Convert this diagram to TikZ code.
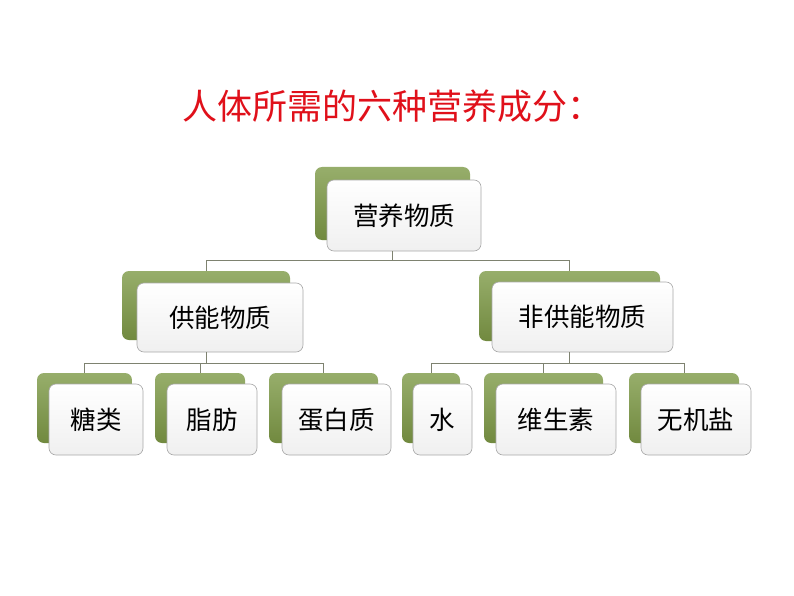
\documentclass[tikz,border=0pt]{standalone}
\usepackage{fontspec}
\setmainfont{Noto Sans CJK SC}
\definecolor{olivetop}{HTML}{97AE6B}
\definecolor{olivebot}{HTML}{71893F}
\definecolor{conncol}{HTML}{7E8270}
\definecolor{boxline}{HTML}{A8A8A8}
\definecolor{titlered}{HTML}{E0101A}
\tikzset{
  greenbox/.style={rectangle, rounded corners=7pt, inner sep=0pt, top color=olivetop, bottom color=olivebot, draw=none},
  whitebox/.style={rectangle, rounded corners=7pt, inner sep=0pt, top color=white, bottom color=black!6, draw=boxline, line width=0.6pt,
     font=\fontsize{25.5}{28}\selectfont, text=black},
  conn/.style={draw=conncol, line width=0.9pt},
}
\begin{document}
\begin{tikzpicture}[x=1pt,y={(0pt,-1pt)}]
\useasboundingbox[fill=white] (0,0) rectangle (794,596);
\node[font=\fontsize{35}{38}\selectfont, text=titlered] (title) at (392,106) {人体所需的六种营养成分：};

% level 1
\node[greenbox, minimum width=155pt, minimum height=73pt] (topg) at (392.5,203.5) {};
\node[whitebox, minimum width=154pt, minimum height=71pt] (topw) at (404,215.5) {营养物质};

% level 2
\node[greenbox, minimum width=168pt, minimum height=69pt] (lg) at (206,305.5) {};
\node[whitebox, minimum width=166pt, minimum height=69pt] (lw) at (220,317.5) {供能物质};
\node[greenbox, minimum width=181pt, minimum height=70pt] (rg) at (569.5,306) {};
\node[whitebox, minimum width=181pt, minimum height=70pt] (rw) at (582.5,317) {非供能物质};

% level 3
\node[greenbox, minimum width=95pt, minimum height=70pt] (ag) at (84.5,408) {};
\node[whitebox, minimum width=94pt, minimum height=71pt] (aw) at (96,419.5) {糖类};
\node[greenbox, minimum width=90pt, minimum height=70pt] (bg) at (200,408) {};
\node[whitebox, minimum width=90pt, minimum height=71pt] (bw) at (212,419.5) {脂肪};
\node[greenbox, minimum width=109pt, minimum height=70pt] (cg) at (323.5,408) {};
\node[whitebox, minimum width=109pt, minimum height=71pt] (cw) at (336.5,419.5) {蛋白质};

\node[greenbox, minimum width=58pt, minimum height=70pt] (dg) at (431,408) {};
\node[whitebox, minimum width=59pt, minimum height=71pt] (dw) at (442.5,419.5) {水};
\node[greenbox, minimum width=119pt, minimum height=70pt] (eg) at (543.5,408) {};
\node[whitebox, minimum width=120pt, minimum height=71pt] (ew) at (556,419.5) {维生素};
\node[greenbox, minimum width=110pt, minimum height=70pt] (fg) at (684,408) {};
\node[whitebox, minimum width=110pt, minimum height=71pt] (fw) at (696,419.5) {无机盐};

% connectors
\draw[conn] (topg.center |- topw.south) -- ++(0,9) -| (lg.north);
\draw[conn] (topg.center |- topw.south) -- ++(0,9) -| (rg.north);

\draw[conn] (lg.center |- lw.south) -- ++(0,11) -| (ag.north);
\draw[conn] (lg.center |- lw.south) -- ++(0,11) -| (bg.north);
\draw[conn] (lg.center |- lw.south) -- ++(0,11) -| (cg.north);

\draw[conn] (rg.center |- rw.south) -- ++(0,11) -| (dg.north);
\draw[conn] (rg.center |- rw.south) -- ++(0,11) -| (eg.north);
\draw[conn] (rg.center |- rw.south) -- ++(0,11) -| (fg.north);
\end{tikzpicture}
\end{document}
